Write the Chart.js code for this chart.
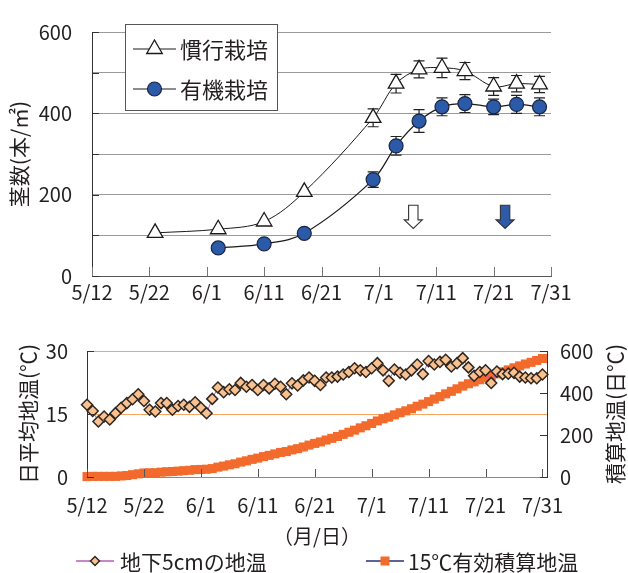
<!DOCTYPE html>
<html lang="ja">
<head>
<meta charset="utf-8">
<script src="https://cdn.jsdelivr.net/npm/chart.js@4.4.1/dist/chart.umd.min.js"></script>
<style>
  html, body { margin: 0; padding: 0; background: #fff; }
  #wrap { position: relative; width: 628px; height: 573px; }
  #stemBox { position: absolute; left: 0; top: 0; width: 628px; height: 320px; }
  #tempBox { position: absolute; left: 0; top: 320px; width: 628px; height: 253px; }
</style>
</head>
<body>
<div id="wrap">
  <div id="stemBox"><canvas id="stemChart"></canvas></div>
  <div id="tempBox"><canvas id="tempChart"></canvas></div>
</div>
<script>
const FONT = '"Noto Sans CJK JP", "Noto Sans", sans-serif';
const TXT = '#231f20';

// shared date axis, 5/12 .. 7/31
const tickLabels = ['5/12', '5/22', '6/1', '6/11', '6/21', '7/1', '7/11', '7/21', '7/31'];

// stems per m2
const convDates = ['5/23', '6/3', '6/11', '6/18', '6/30', '7/4', '7/8', '7/12', '7/16', '7/21', '7/25', '7/29'];
const convStems = [106, 115, 134, 207, 389, 473, 508, 512, 504, 466, 473, 471];
const convErr   = [0, 0, 0, 0, 22, 23, 21, 24, 21, 22, 20, 20];
const orgDates  = ['6/3', '6/11', '6/18', '6/30', '7/4', '7/8', '7/12', '7/16', '7/21', '7/25', '7/29'];
const orgStems  = [69, 79, 105, 237, 320, 381, 416, 424, 416, 422, 416];
const orgErr    = [0, 0, 0, 19, 23, 28, 22, 22, 19, 22, 22];
const arrowDates = ['7/7', '7/23'];
const arrowFrom = 174;
const arrowTo = 117;

// daily values 5/12 .. 7/31
const soilTemp = [
  17.2, 15.7, 13.2, 14.4, 13.7, 15.2, 16.5, 17.6, 18.5, 19.7,
  18.1, 16.0, 15.6, 17.6, 17.6, 16.0, 16.9, 17.2, 16.7, 17.8,
  16.5, 15.2, 18.6, 21.3, 20.2, 20.9, 20.7, 22.4, 21.5, 21.9,
  20.7, 21.9, 21.1, 22.2, 21.5, 19.7, 22.3, 21.8, 23.0, 23.7,
  22.9, 21.9, 23.7, 23.7, 23.9, 24.4, 25.0, 25.9, 25.4, 25.0,
  25.9, 27.1, 25.4, 22.9, 25.6, 24.8, 24.4, 25.4, 26.8, 24.5,
  27.6, 26.8, 27.4, 27.9, 26.3, 27.1, 28.3, 26.1, 24.1, 25.0,
  25.4, 22.4, 25.1, 24.5, 24.6, 24.8, 23.9, 23.7, 23.5, 23.5,
  24.4
];
const cumTemp = [
  2, 3, 3, 3, 3, 3, 5, 7, 11, 15,
  19, 20, 20, 23, 25, 26, 28, 30, 32, 35,
  36, 37, 40, 47, 52, 58, 63, 71, 77, 84,
  90, 97, 103, 110, 117, 121, 129, 135, 143, 152,
  160, 167, 176, 184, 193, 203, 213, 223, 234, 244,
  255, 267, 277, 285, 296, 306, 315, 325, 337, 347,
  359, 371, 383, 396, 408, 420, 433, 444, 453, 463,
  474, 481, 491, 501, 510, 520, 529, 538, 546, 555,
  564
];

function dayOf(md) {
  const [m, d] = md.split('/').map(Number);
  return Math.round((new Date(2000, m - 1, d) - new Date(2000, 4, 12)) / 86400000);
}
const tickDays = tickLabels.map(dayOf);

Chart.defaults.font.family = FONT;
Chart.defaults.color = TXT;

function marker(ctx, kind, x, y, r, fill, stroke, lw) {
  ctx.beginPath();
  if (kind === 'triangle') {
    ctx.moveTo(x, y - r);
    ctx.lineTo(x + r * 0.866, y + r / 2);
    ctx.lineTo(x - r * 0.866, y + r / 2);
    ctx.closePath();
  } else if (kind === 'circle') {
    ctx.arc(x, y, r, 0, Math.PI * 2);
  } else if (kind === 'rectRot') {
    ctx.moveTo(x, y - r); ctx.lineTo(x + r, y); ctx.lineTo(x, y + r); ctx.lineTo(x - r, y);
    ctx.closePath();
  } else {
    ctx.rect(x - r, y - r, 2 * r, 2 * r);
  }
  ctx.fillStyle = fill;
  ctx.fill();
  if (lw) { ctx.strokeStyle = stroke; ctx.lineWidth = lw; ctx.stroke(); }
}

// short tick marks drawn inside the plot area
function innerTicks(id, specs) {
  return {
    id,
    afterDraw(chart) {
      const ctx = chart.ctx, a = chart.chartArea;
      ctx.save();
      ctx.lineWidth = 1;
      specs.forEach(sp => {
        const sc = chart.scales[sp.scale];
        ctx.strokeStyle = sp.color;
        ctx.beginPath();
        sc.ticks.forEach(t => {
          const p = Math.round(sc.getPixelForValue(t.value)) + 0.5;
          if (sc.isHorizontal()) { ctx.moveTo(p, a.bottom); ctx.lineTo(p, a.bottom - sp.len); }
          else if (sc.position === 'left') { ctx.moveTo(a.left, p); ctx.lineTo(a.left + sp.len, p); }
          else { ctx.moveTo(a.right, p); ctx.lineTo(a.right - sp.len, p); }
        });
        ctx.stroke();
      });
      ctx.restore();
    }
  };
}

function drawLegend(chart, items, fontSize) {
  const ctx = chart.ctx;
  ctx.save();
  ctx.font = fontSize + 'px ' + FONT;
  ctx.textBaseline = 'middle';
  ctx.textAlign = 'left';
  items.forEach(it => {
    const ds = chart.data.datasets[it.index];
    ctx.strokeStyle = ds.borderColor;
    ctx.lineWidth = it.lw;
    ctx.beginPath();
    ctx.moveTo(it.x0, it.y); ctx.lineTo(it.x1, it.y);
    ctx.stroke();
    marker(ctx, ds.pointStyle, (it.x0 + it.x1) / 2, it.y, it.r,
      ds.pointBackgroundColor, ds.pointBorderColor, ds.pointBorderWidth);
    ctx.fillStyle = TXT;
    ctx.fillText(ds.label, it.tx, it.y + 1);
  });
  ctx.restore();
}

const errorBars = {
  id: 'errorBars',
  beforeDatasetsDraw(chart) {
    const ctx = chart.ctx, y = chart.scales.y;
    ctx.save();
    ctx.strokeStyle = '#222';
    ctx.lineWidth = 1.2;
    chart.data.datasets.forEach((ds, i) => {
      chart.getDatasetMeta(i).data.forEach((pt, j) => {
        const e = ds.err[j];
        if (!e) return;
        const v = ds.data[j].y;
        const y0 = y.getPixelForValue(v - e), y1 = y.getPixelForValue(v + e);
        ctx.beginPath();
        ctx.moveTo(pt.x, y0); ctx.lineTo(pt.x, y1);
        ctx.moveTo(pt.x - 5.5, y0); ctx.lineTo(pt.x + 5.5, y0);
        ctx.moveTo(pt.x - 5.5, y1); ctx.lineTo(pt.x + 5.5, y1);
        ctx.stroke();
      });
    });
    ctx.restore();
  }
};

const arrows = {
  id: 'arrows',
  afterDatasetsDraw(chart) {
    const {x, y} = chart.scales;
    const ctx = chart.ctx;
    const top = y.getPixelForValue(arrowFrom), tip = y.getPixelForValue(arrowTo);
    const fills = ['#ffffff', '#2d5ba8'];
    ctx.save();
    arrowDates.forEach((d, i) => {
      const cx = x.getPixelForValue(dayOf(d));
      const sw = 4.7, hw = 9, hl = 8.5;
      ctx.beginPath();
      ctx.moveTo(cx - sw, top); ctx.lineTo(cx + sw, top); ctx.lineTo(cx + sw, tip - hl);
      ctx.lineTo(cx + hw, tip - hl); ctx.lineTo(cx, tip); ctx.lineTo(cx - hw, tip - hl);
      ctx.lineTo(cx - sw, tip - hl); ctx.closePath();
      ctx.fillStyle = fills[i];
      ctx.fill();
      ctx.strokeStyle = '#333';
      ctx.lineWidth = 1.1;
      ctx.stroke();
    });
    ctx.restore();
  }
};

const stemLegend = {
  id: 'stemLegend',
  afterDraw(chart) {
    const ctx = chart.ctx;
    ctx.save();
    ctx.fillStyle = '#fff';
    ctx.strokeStyle = '#555';
    ctx.lineWidth = 1;
    ctx.fillRect(125.5, 24.5, 152, 86);
    ctx.strokeRect(125.5, 24.5, 152, 86);
    ctx.restore();
    drawLegend(chart, [
      { index: 0, x0: 133, x1: 176, y: 49, r: 9, lw: 1, tx: 180 },
      { index: 1, x0: 133, x1: 176, y: 89, r: 7, lw: 1, tx: 180 }
    ], 22);
  }
};

new Chart(document.getElementById('stemChart'), {
  type: 'line',
  data: {
    datasets: [
      {
        label: '慣行栽培',
        data: convDates.map((d, i) => ({ x: dayOf(d), y: convStems[i] })),
        err: convErr,
        borderColor: '#1a1a1a', borderWidth: 1, tension: 0.35,
        pointStyle: 'triangle', pointRadius: 9,
        pointBackgroundColor: '#ffffff', pointBorderColor: '#1a1a1a', pointBorderWidth: 1.3
      },
      {
        label: '有機栽培',
        data: orgDates.map((d, i) => ({ x: dayOf(d), y: orgStems[i] })),
        err: orgErr,
        borderColor: '#1a1a1a', borderWidth: 1.2, tension: 0.35,
        pointStyle: 'circle', pointRadius: 7,
        pointBackgroundColor: '#2b5aa8', pointBorderColor: '#1b2540', pointBorderWidth: 1.2
      }
    ]
  },
  options: {
    responsive: true, maintainAspectRatio: false, animation: false,
    layout: { padding: { top: 20, right: 77, left: 0, bottom: 0 } },
    plugins: { legend: { display: false }, tooltip: { enabled: false } },
    scales: {
      x: {
        type: 'linear', min: 0, max: 80,
        afterBuildTicks: s => { s.ticks = tickDays.map(v => ({ value: v })); },
        afterFit: s => { s.height = 44; },
        grid: { display: false, drawTicks: false },
        border: { color: '#555', width: 1 },
        ticks: { callback: (v, i) => tickLabels[i], font: { size: 20 }, padding: 4, maxRotation: 0, autoSkip: false }
      },
      y: {
        min: 0, max: 600,
        afterFit: s => { s.width = 92; },
        grid: { drawTicks: false, color: c => c.tick.value === 0 ? 'rgba(0,0,0,0)' : '#9b9b9b' },
        border: { color: '#333', width: 1 },
        ticks: { stepSize: 100, callback: v => (v % 200 === 0 ? v : ''), font: { size: 20 }, padding: 20 },
        title: { display: true, text: '茎数(本/㎡)', font: { size: 21 }, padding: { top: 6 } }
      }
    }
  },
  plugins: [errorBars, arrows, innerTicks('stemTicks', [
    { scale: 'x', len: 9, color: '#777' },
    { scale: 'y', len: 7, color: '#333' }
  ]), stemLegend]
});

const tempLegend = {
  id: 'tempLegend',
  afterDraw(chart) {
    drawLegend(chart, [
      { index: 0, x0: 76, x1: 114, y: 241, r: 4.5, lw: 1.5, tx: 120 },
      { index: 1, x0: 366, x1: 404, y: 241, r: 4.5, lw: 1.5, tx: 408 }
    ], 21);
  }
};

const rightTitle = {
  id: 'rightTitle',
  afterDraw(chart) {
    const a = chart.chartArea, ctx = chart.ctx;
    ctx.save();
    ctx.translate(615, (a.top + a.bottom) / 2);
    ctx.rotate(-Math.PI / 2);
    ctx.font = '21px ' + FONT;
    ctx.fillStyle = TXT;
    ctx.textAlign = 'center';
    ctx.textBaseline = 'middle';
    ctx.fillText(chart.scales.yR.options.title.text, 0, 0);
    ctx.restore();
  }
};

new Chart(document.getElementById('tempChart'), {
  type: 'line',
  data: {
    datasets: [
      {
        label: '地下5cmの地温',
        data: soilTemp.map((v, i) => ({ x: i, y: v })),
        yAxisID: 'yL', order: 0, clip: false,
        borderColor: '#b65cb8', borderWidth: 1, tension: 0,
        pointStyle: 'rectRot', pointRadius: 5.5,
        pointBackgroundColor: '#f9c18f', pointBorderColor: '#2e2620', pointBorderWidth: 1.5
      },
      {
        label: '15℃有効積算地温',
        data: cumTemp.map((v, i) => ({ x: i, y: v })),
        yAxisID: 'yR', order: 1, clip: false,
        borderColor: '#2a2f6e', borderWidth: 1, tension: 0,
        pointStyle: 'rect', pointRadius: 6.4,
        pointBackgroundColor: '#f26a2c', pointBorderColor: '#f26a2c', pointBorderWidth: 0
      }
    ]
  },
  options: {
    responsive: true, maintainAspectRatio: false, animation: false,
    layout: { padding: { top: 22, right: 0, left: 0, bottom: 0 } },
    plugins: { legend: { display: false }, tooltip: { enabled: false } },
    scales: {
      x: {
        type: 'linear', min: 0, max: 80.8,
        afterBuildTicks: s => { s.ticks = tickDays.map(v => ({ value: v })); },
        afterFit: s => { s.height = 96; },
        grid: { display: false, drawTicks: false },
        border: { color: '#8a8a8a', width: 1 },
        ticks: { callback: (v, i) => tickLabels[i], font: { size: 20 }, padding: 16, maxRotation: 0, autoSkip: false },
        title: { display: true, text: '（月/日）', font: { size: 20 }, padding: { top: 0, bottom: 25 } }
      },
      yL: {
        position: 'left', min: 0, max: 30,
        afterFit: s => { s.width = 87; },
        grid: { drawTicks: false, color: c => c.tick.value === 0 ? 'rgba(0,0,0,0)' : '#f7a461' },
        border: { color: '#333', width: 1 },
        ticks: { stepSize: 15, font: { size: 20 }, padding: 19 },
        title: { display: true, text: '日平均地温(℃)', font: { size: 21 }, padding: { top: 15 } }
      },
      yR: {
        position: 'right', min: 0, max: 600,
        afterFit: s => { s.width = 81; },
        grid: { drawOnChartArea: false, drawTicks: false },
        border: { color: '#333', width: 1 },
        ticks: { stepSize: 200, font: { size: 20 }, padding: 13 },
        title: { display: false, text: '積算地温(日℃)' }
      }
    }
  },
  plugins: [innerTicks('tempTicks', [
    { scale: 'x', len: 8, color: '#555' },
    { scale: 'yL', len: 7, color: '#333' },
    { scale: 'yR', len: 7, color: '#333' }
  ]), tempLegend, rightTitle]
});
</script>
</body>
</html>
